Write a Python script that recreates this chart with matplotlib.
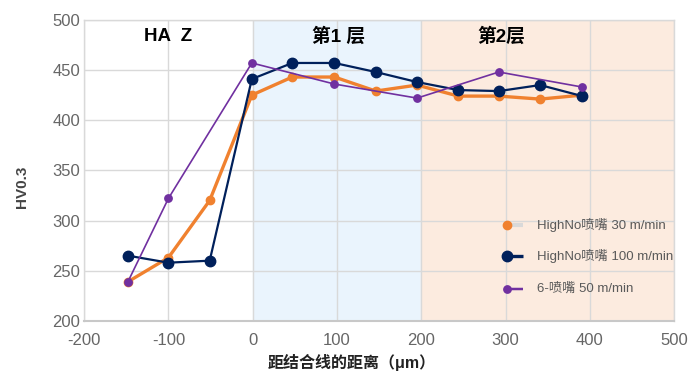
import matplotlib
matplotlib.use("Agg")
import matplotlib.pyplot as plt

plt.rcParams['font.family'] = ['Liberation Sans', 'Noto Sans CJK SC']
plt.rcParams['axes.unicode_minus'] = False

# --- data ---
x_orange = [-148, -100, -51, -1, 47, 97, 146, 195, 244, 292, 341, 391]
y_orange = [239, 263, 320, 425, 443, 443, 429, 435, 424, 424, 421, 425]

x_navy = [-148, -100, -51, -1, 47, 97, 146, 195, 244, 292, 341, 391]
y_navy = [265, 258, 260, 441, 457, 457, 448, 438, 430, 429, 435, 424]

x_purple = [-148, -100, -1, 97, 195, 292, 391]
y_purple = [239, 322, 457, 436, 422, 448, 433]

labels = ['HighNo喷嘴 30 m/min', 'HighNo喷嘴 100 m/min', '6-喷嘴 50 m/min']
regions = [('HA  Z', -100), ('第1 层', 102), ('第2层', 295)]

c_orange = '#F0812F'
c_navy = '#00205B'
c_purple = '#7030A0'
c_grid = '#D9D9D9'

fig = plt.figure(figsize=(6.95, 3.74), dpi=100)
ax = fig.add_axes([0.121, 0.142, 0.849, 0.805])

ax.axvspan(0, 200, color='#EAF4FD', zorder=0)
ax.axvspan(200, 500, color='#FCEBDF', zorder=0)

ax.plot(x_orange, y_orange, color=c_orange, lw=2.4, marker='o', ms=6.0, zorder=3)
ax.plot(x_navy, y_navy, color=c_navy, lw=1.6, marker='o', ms=7.5, zorder=4)
ax.plot(x_purple, y_purple, color=c_purple, lw=1.2, marker='o', ms=5.3, zorder=5)

ax.set_xlim(-200, 500)
ax.set_ylim(200, 500)
ax.set_xticks(range(-200, 501, 100))
ax.set_yticks(range(200, 501, 50))
ax.grid(True, color=c_grid, lw=1.0, zorder=1)
ax.set_axisbelow(True)
for s in ax.spines.values():
    s.set_color(c_grid)
    s.set_linewidth(1.0)
ax.spines['bottom'].set_color('#C8C8C8')
ax.spines['bottom'].set_linewidth(1.5)
ax.tick_params(length=0, labelsize=12, labelcolor='#666666')
ax.tick_params(axis='x', pad=9)
ax.tick_params(axis='y', pad=3)

for txt, xv in regions:
    ax.text(xv, 483, txt, ha='center', va='center', fontsize=13.5,
            fontweight='bold', color='black')

ax.set_xlabel('距结合线的距离（μm）', fontsize=11.5, fontweight='bold',
              color='#222222')
ax.xaxis.set_label_coords(0.454, -0.11)
ax.set_ylabel('HV0.3', fontsize=11, fontweight='bold', color='#444444')
ax.yaxis.set_label_coords(-0.094, 0.445)

# legend drawn by hand: marker at the left end of a short line
legend_style = [
    (c_orange, c_grid, 6.0, 2.4),
    (c_navy, c_navy, 7.5, 1.8),
    (c_purple, c_purple, 5.3, 1.2),
]
ly = [0.319, 0.214, 0.106]
for (mc, lc, ms, lw), yy, lab in zip(legend_style, ly, labels):
    ax.plot([0.716, 0.744], [yy, yy], color=lc, lw=lw + 0.6,
            transform=ax.transAxes, zorder=6, solid_capstyle='butt')
    ax.plot([0.716], [yy], color=mc, marker='o', ms=ms,
            transform=ax.transAxes, zorder=7)
    ax.text(0.767, yy, lab, transform=ax.transAxes, fontsize=9.5,
            color='#595959', va='center', ha='left')

fig.savefig('out.png', dpi=100)
